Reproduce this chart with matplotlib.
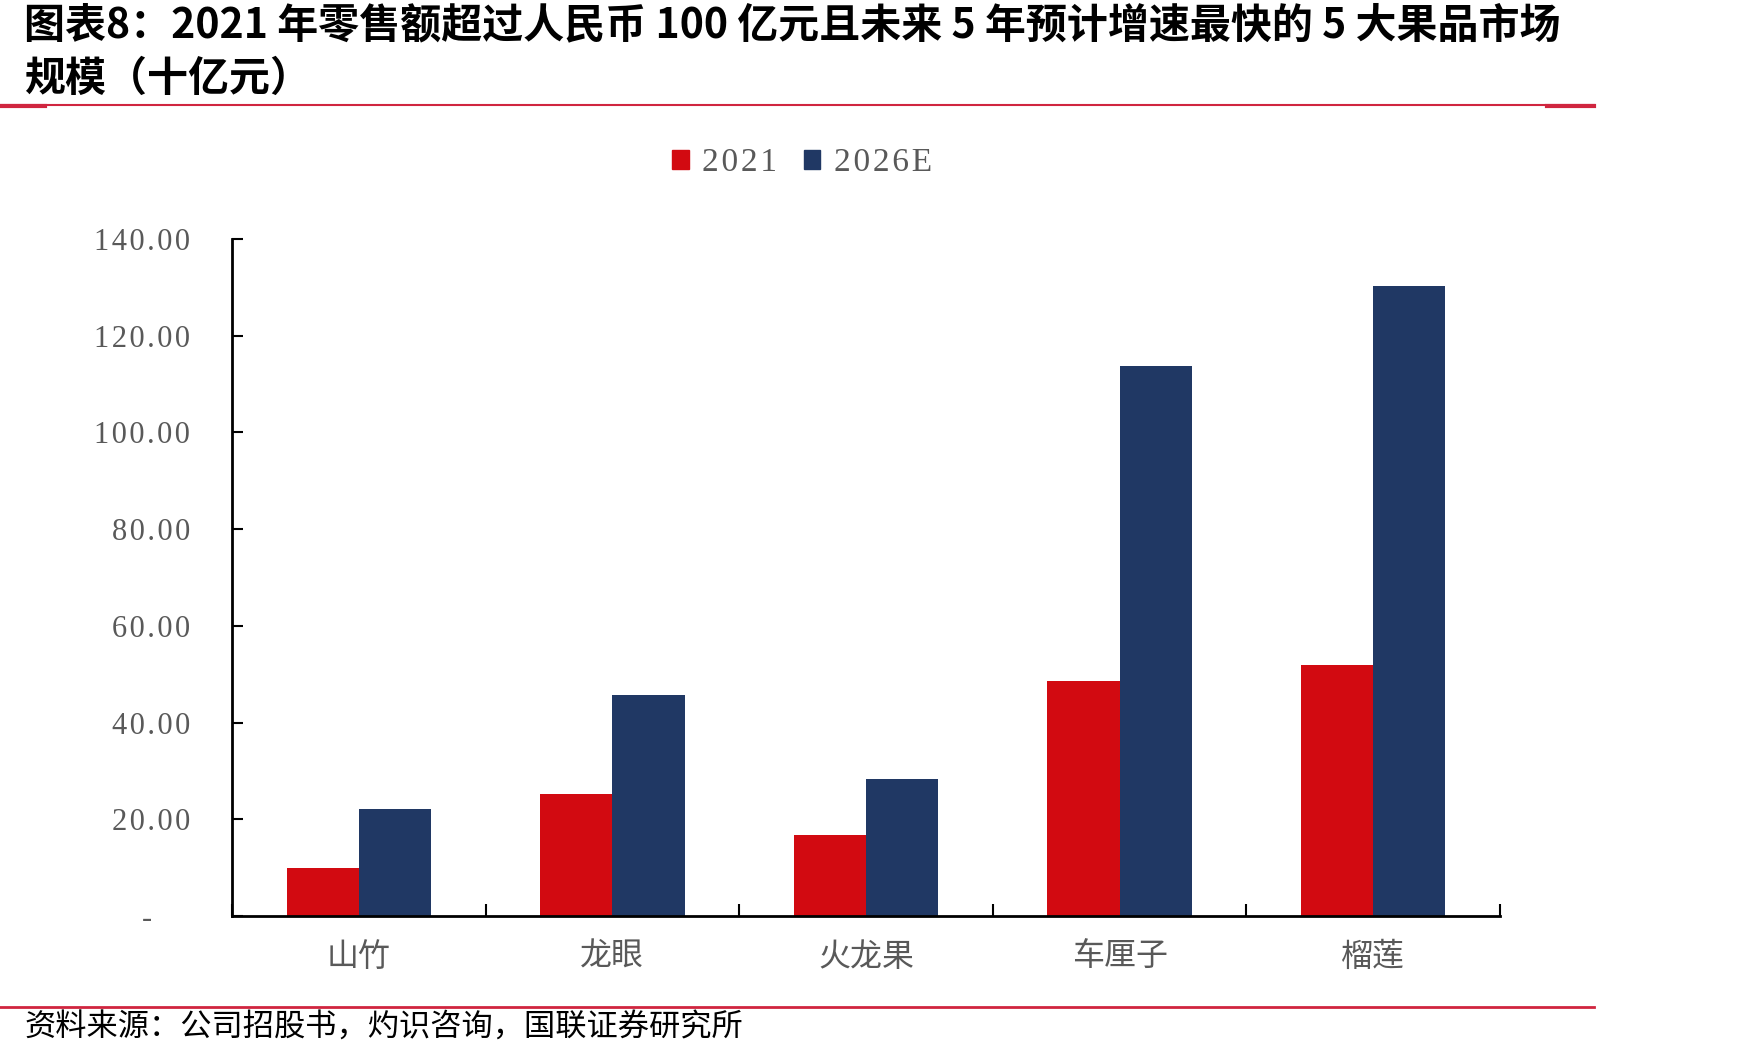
import numpy as np
import matplotlib.pyplot as plt
from matplotlib.lines import Line2D
from matplotlib.patches import Patch

plt.rcParams['font.family'] = ['Noto Sans CJK SC', 'DejaVu Sans']

# data
fruits = ['山竹', '龙眼', '火龙果', '车厘子', '榴莲']
series = ['2021', '2026E']
v2021 = [10.0, 25.3, 16.8, 48.6, 52.0]
v2026 = [22.1, 45.8, 28.3, 113.7, 130.3]
yticks = [0, 20, 40, 60, 80, 100, 120, 140]
ytick_labels = ['-', '20.00', '40.00', '60.00', '80.00', '100.00', '120.00', '140.00']

title1 = '图表8：2021 年零售额超过人民币 100 亿元且未来 5 年预计增速最快的 5 大果品市场'
title2 = '规模（十亿元）'
source = '资料来源：公司招股书，灼识咨询，国联证券研究所'

red = '#D20A11'
blue = '#203864'
grey = '#595959'
rule = '#D0253F'


def spaced(s):
    # wider letter spacing, like the original serif digits
    return '\u200a'.join(s)


W, H = 1748, 1060
fig = plt.figure(figsize=(W / 100, H / 100), dpi=100)
ax = fig.add_axes([232 / W, 1 - 916 / H, (1500 - 232) / W, (916 - 239) / H])

x = np.arange(len(fruits))
bw = 0.285
ax.bar(x - bw / 2, v2021, bw, color=red, label=series[0])
ax.bar(x + bw / 2, v2026, bw, color=blue, label=series[1])

ax.set_xlim(-0.5, len(fruits) - 0.5)
ax.set_ylim(0, 140)
ax.spines['top'].set_visible(False)
ax.spines['right'].set_visible(False)
for s in ['left', 'bottom']:
    ax.spines[s].set_linewidth(2)
    ax.spines[s].set_color('black')

labels = [spaced(t) for t in ytick_labels]
labels[0] = '-' + '\u00a0' * 5
ax.set_yticks(yticks)
ax.set_yticklabels(labels, family='Liberation Serif', fontsize=22, color=grey)
ax.tick_params(axis='y', direction='in', length=8, width=1.5, pad=30)

ax.set_xticks(x)
ax.set_xticklabels(fruits, fontsize=23, color=grey)
ax.tick_params(axis='x', which='major', length=0, pad=18)
ax.set_xticks(np.arange(len(fruits) + 1) - 0.5, minor=True)
ax.tick_params(axis='x', which='minor', direction='in', length=9, width=1.5)

handles = [Patch(color=red), Patch(color=blue)]
fig.legend(handles, [spaced(s) for s in series], loc='center',
           bbox_to_anchor=(802 / W, 1 - 163 / H),
           ncol=2, frameon=False, handlelength=0.5, handleheight=0.5,
           handletextpad=0.4, columnspacing=0.8,
           prop={'family': 'Liberation Serif', 'size': 24}, labelcolor=grey)

# title and rules
fig.text(24 / W, 1 - 25 / H, title1, fontsize=29.5, weight='bold', va='center')
fig.text(24 / W, 1 - 79 / H, title2, fontsize=29.5, weight='bold', va='center')
fig.add_artist(Line2D([0, 1594 / W], [1 - 105 / H] * 2, color=rule, lw=1.5))
fig.add_artist(Line2D([0, 45 / W], [1 - 106 / H] * 2, color=rule, lw=3))
fig.add_artist(Line2D([1547 / W, 1594 / W], [1 - 106 / H] * 2, color=rule, lw=3))
fig.add_artist(Line2D([0, 1594 / W], [1 - 1007 / H] * 2, color=rule, lw=2))
fig.text(24 / W, 1 - 1028 / H, source, fontsize=22.5, va='center')

fig.savefig('out.png', dpi=100)
